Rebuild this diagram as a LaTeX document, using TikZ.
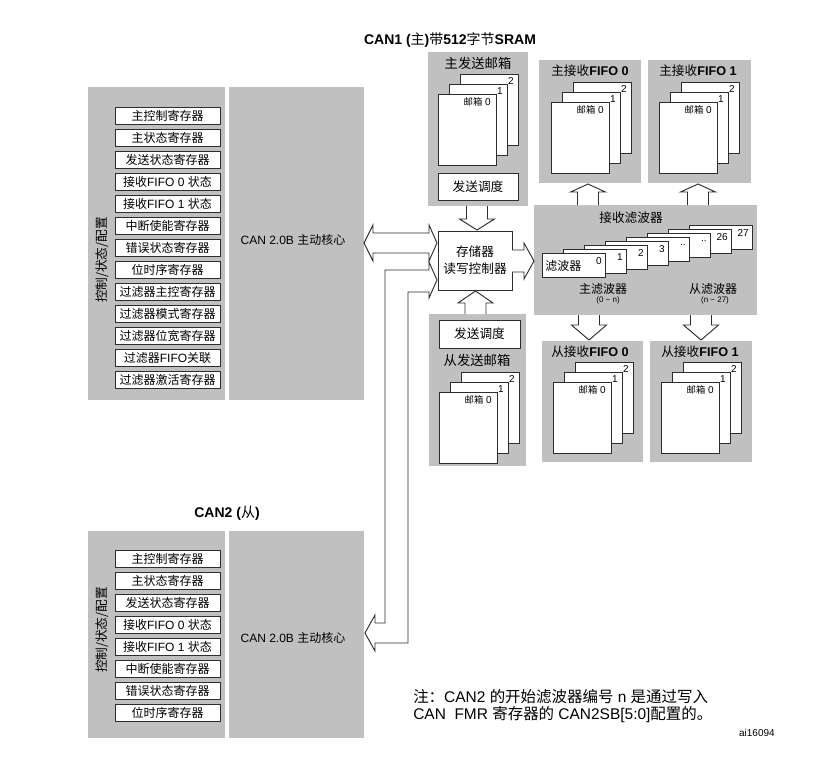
\documentclass[tikz,border=0pt]{standalone}
\usepackage{fontspec}
\setmainfont{Liberation Sans}
\newfontfamily\cjk{Noto Sans CJK SC}
\newfontfamily\lat{Liberation Sans}
\definecolor{panel}{RGB}{192,192,192}
\definecolor{edge}{RGB}{45,45,45}
\tikzset{
  wbox/.style={draw=edge, fill=white, line width=0.7pt, inner sep=0pt},
  reg/.style={wbox, minimum width=78.75pt, minimum height=12.75pt, font=\cjk\fontsize{9}{10}\selectfont},
  hollow/.style={draw=edge, fill=white, line width=0.7pt, line join=miter},
  pg/.style={draw=edge, fill=white, line width=0.7pt},
  tiny/.style={font=\lat\fontsize{7.5}{8}\selectfont, inner sep=0pt},
  lbl/.style={font=\cjk\fontsize{9.5}{11}\selectfont, inner sep=0pt},
}
\newcommand{\pagestack}[3]{% #1 x, #2 y of page 0 top-left, #3 name prefix
  \draw[pg] (#1+22,#2-20) rectangle ++(58,71);
  \draw[pg] (#1+11,#2-10) rectangle ++(58,71);
  \draw[pg] (#1,#2) rectangle ++(58,71);
  \node[tiny, anchor=east] (#3c) at (#1+22+58-4,#2-20+7) {2};
  \node[tiny, anchor=east] (#3b) at (#1+11+58-4,#2-10+7) {1};
  \node[tiny, anchor=east] (#3a) at (#1+58-5,#2+8) {{\cjk\fontsize{7}{8}\selectfont 邮箱} 0};
}
\newcommand{\vblock}[4]{% cx, ytail, ybase, ytip
  \path[hollow] (#1-10.5,#2) -- (#1-10.5,#3) -- (#1-17.5,#3) -- (#1,#4) -- (#1+17.5,#3) -- (#1+10.5,#3) -- (#1+10.5,#2);
}
\begin{document}
\begin{tikzpicture}[x=0.75pt,y=-0.75pt]
\useasboundingbox (0,0) rectangle (835,760);

% ---------- title
\node[inner sep=0pt, font=\bfseries\fontsize{10.5}{12}\selectfont] (title) at (450,40)
  {CAN1 ({\cjk\mdseries 主}){\cjk\mdseries 带}512{\cjk\mdseries 字节}SRAM};

% ---------- CAN1 register panel
\fill[panel] (88,87) rectangle (225,400);
\fill[panel] (229,87) rectangle (364,400);
\node[lbl, rotate=90] (cfg1) at (102,260) {控制/状态/配置};
\foreach \t [count=\i from 0] in {主控制寄存器,主状态寄存器,发送状态寄存器,接收{\lat FIFO 0 }状态,接收{\lat FIFO 1 }状态,中断使能寄存器,错误状态寄存器,位时序寄存器,过滤器主控寄存器,过滤器模式寄存器,过滤器位宽寄存器,过滤器{\lat FIFO}关联,过滤器激活寄存器}
  \node[reg] (ra\i) at (167.5,{115.5+22*\i}) {\t};
\node[inner sep=0pt, font=\fontsize{9}{10}\selectfont] (core1) at (293,240) {CAN 2.0B {\cjk 主动核心}};

% ---------- CAN2 register panel
\node[inner sep=0pt, font=\bfseries\fontsize{10.5}{12}\selectfont] (title2) at (227,513) {CAN2 ({\cjk\mdseries 从})};
\fill[panel] (88,531) rectangle (225,738);
\fill[panel] (229,531) rectangle (364,738);
\node[lbl, rotate=90] (cfg2) at (102,630) {控制/状态/配置};
\foreach \t [count=\i from 0] in {主控制寄存器,主状态寄存器,发送状态寄存器,接收{\lat FIFO 0 }状态,接收{\lat FIFO 1 }状态,中断使能寄存器,错误状态寄存器,位时序寄存器}
  \node[reg] (rb\i) at (167.5,{558.5+22*\i}) {\t};
\node[inner sep=0pt, font=\fontsize{9}{10}\selectfont] (core2) at (293,638) {CAN 2.0B {\cjk 主动核心}};

% ---------- master transmit mailboxes
\fill[panel] (428,52) rectangle (528,206);
\node[lbl, font=\cjk\fontsize{10}{11}\selectfont] (txm) at (478,63) {主发送邮箱};
\pagestack{438}{94}{txmp}
\node[wbox, minimum width=60pt, minimum height=20.25pt, font=\cjk\fontsize{9.5}{11}\selectfont] (sch1) at (478,186.5) {发送调度};

% ---------- controller
\node[wbox, minimum width=55.5pt, minimum height=44.25pt, align=center, font=\cjk\fontsize{9.5}{12.5}\selectfont] (ctrl) at (475,260.5) {存储器\\读写控制器};

% ---------- slave transmit mailboxes
\fill[panel] (429,314) rectangle (526,466);
\node[wbox, minimum width=60.75pt, minimum height=21pt, font=\cjk\fontsize{9.5}{11}\selectfont] (sch2) at (479.5,334) {发送调度};
\node[lbl, font=\cjk\fontsize{10}{11}\selectfont] (txs) at (477,360) {从发送邮箱};
\pagestack{439}{392}{txsp}

% ---------- master receive FIFOs
\fill[panel] (539,60) rectangle (641,183);
\fill[panel] (648,60) rectangle (751,183);
\node[lbl] (rf0) at (590,71) {主接收{\lat\bfseries FIFO 0}};
\node[lbl] (rf1) at (698,71) {主接收{\lat\bfseries FIFO 1}};
\pagestack{551}{102}{rfa}
\pagestack{659}{102}{rfb}

% ---------- filters
\fill[panel] (534,205) rectangle (757,315);
\node[lbl] (flt) at (631,218) {接收滤波器};
\foreach \k/\s in {7/27,6/26,5/..,4/..,3/3,2/2,1/1,0/0} {
  \draw[pg] ({542+21*\k},{253-4*\k}) rectangle ++(63,24);
  \node[tiny, anchor=east] (fn\k) at ({542+21*\k+63-3},{253-4*\k+8}) {\s};
}
\node[lbl, font=\cjk\fontsize{9}{10}\selectfont, anchor=west] (fcard) at (545,266) {滤波器};
\node[lbl, font=\cjk\fontsize{9}{10}\selectfont] (fm) at (603,289) {主滤波器};
\node[tiny, font=\lat\fontsize{6}{7}\selectfont] (fmr) at (608,300) {(0 \textasciitilde{} n)};
\node[lbl, font=\cjk\fontsize{9}{10}\selectfont] (fs) at (713,289) {从滤波器};
\node[tiny, font=\lat\fontsize{6}{7}\selectfont] (fsr) at (715,300) {(n \textasciitilde{} 27)};

% ---------- slave receive FIFOs
\fill[panel] (542,341) rectangle (643,462);
\fill[panel] (650,341) rectangle (752,462);
\node[lbl] (sf0) at (590,352) {从接收{\lat\bfseries FIFO 0}};
\node[lbl] (sf1) at (700,352) {从接收{\lat\bfseries FIFO 1}};
\pagestack{553}{382}{sfa}
\pagestack{661}{382}{sfb}

% ---------- block arrows
\vblock{477}{206}{219}{230}
\vblock{475.5}{314}{303}{291}
\vblock{588}{205}{192}{184}
\vblock{698}{205}{192}{184}
\vblock{589}{315}{325}{340}
\vblock{701}{315}{325}{340}
\path[hollow] (512,250) -- (524,250) -- (524,243) -- (534,261) -- (524,279) -- (524,272) -- (512,272);
\path[hollow] (364,243) -- (373,225) -- (373,233) -- (429,233) -- (429,225) -- (437,243)
  -- (429,261) -- (429,253) -- (373,253) -- (373,261) -- cycle;
\path[hollow] (437,280) -- (429,262) -- (429,270) -- (385,270) -- (385,623) -- (375,623)
  -- (375,615) -- (365,633) -- (375,651) -- (375,643) -- (408,643) -- (408,292)
  -- (429,292) -- (429,298) -- cycle;

% ---------- note
\node[anchor=west, align=left, inner sep=0pt, font=\fontsize{11.6}{12.75}\selectfont] (note) at (413,706.5)
  {{\cjk 注：}CAN2 {\cjk 的开始滤波器编号} n {\cjk 是通过写入}\\CAN\ \ FMR {\cjk 寄存器的} CAN2SB[5:0]{\cjk 配置的。}};
\node[anchor=east, inner sep=0pt, font=\fontsize{7.5}{9}\selectfont] (aid) at (775,733) {ai16094};
\end{tikzpicture}
\end{document}
